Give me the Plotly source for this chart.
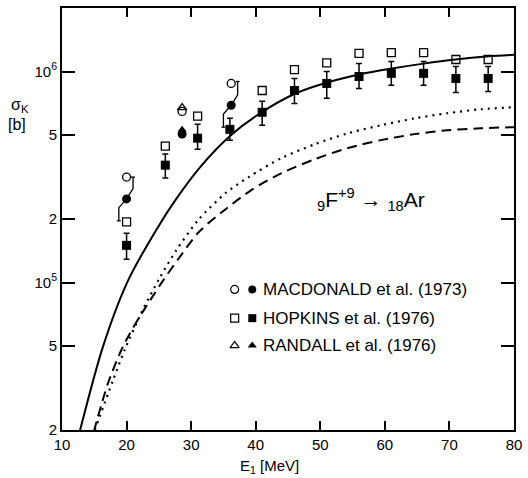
import plotly.graph_objects as go

FONT = "Liberation Sans, Arial, sans-serif"

# --- theory curves (E1 [MeV], sigma_K [b]) ---
solid_x = [12.77, 16.31, 20.15, 24.62, 27.69, 31.69, 36.15, 40.92, 46.15, 51.08, 56.0, 61.08, 66.0, 70.92, 76.15, 80.0]
solid_y = [1.98e4, 4.93e4, 1.01e5, 1.78e5, 2.49e5, 3.61e5, 4.99e5, 6.41e5, 7.87e5, 8.87e5, 9.68e5, 1.033e6, 1.09e6, 1.14e6, 1.18e6, 1.20e6]

dot_x = [15.08, 17.85, 19.69, 22.31, 25.08, 27.69, 31.23, 35.38, 38.92, 44.0, 49.23, 54.31, 59.38, 64.62, 69.69, 74.77, 80.0]
dot_y = [2.0e4, 3.41e4, 4.78e4, 7.21e4, 1.045e5, 1.42e5, 2.0e5, 2.66e5, 3.16e5, 3.89e5, 4.53e5, 5.1e5, 5.56e5, 6.0e5, 6.34e5, 6.62e5, 6.77e5]

dash_x = [14.92, 17.08, 19.38, 21.69, 23.85, 25.54, 28.15, 31.23, 35.38, 39.38, 44.0, 49.23, 54.31, 59.38, 64.62, 69.69, 74.77, 80.0]
dash_y = [1.96e4, 3.3e4, 4.93e4, 6.62e4, 8.41e4, 1.01e5, 1.31e5, 1.74e5, 2.23e5, 2.75e5, 3.30e5, 3.85e5, 4.34e5, 4.73e5, 5.05e5, 5.27e5, 5.38e5, 5.45e5]

# --- HOPKINS et al. (1976) ---
hop_E = [20, 26, 31, 36, 41, 46, 51, 56, 61, 66, 71, 76]
hop_open = [1.94e5, 4.43e5, 6.14e5, None, 8.13e5, 1.02e6, 1.10e6, 1.22e6, 1.23e6, 1.23e6, 1.14e6, 1.14e6]
hop_fill = [1.5e5, 3.6e5, 4.83e5, 5.32e5, 6.41e5, 8.13e5, 8.78e5, 9.47e5, 9.8e5, 9.8e5, 9.27e5, 9.27e5]
hop_err_up = [2.1e4, 4.6e4, 7.9e4, 6.8e4, 8.1e4, 1.13e5, 1.22e5, 1.44e5, 1.36e5, 1.36e5, 1.29e5, 1.29e5]
hop_err_dn = [2.1e4, 4.7e4, 5.5e4, 6.0e4, 8.5e4, 1.07e5, 1.32e5, 1.16e5, 1.2e5, 1.2e5, 1.31e5, 1.22e5]

# --- MACDONALD et al. (1973) ---
mac_E = [20, 28.6, 36.2]
mac_open = [3.16e5, 6.47e5, 8.78e5]
mac_fill = [2.49e5, 5.05e5, 6.92e5]
mac_hi = [3.16e5, None, 8.97e5]
mac_lo = [1.96e5, None, 5.45e5]

# --- RANDALL et al. (1976) ---
ran_E = [28.6]
ran_open = [6.75e5]
ran_fill = [5.3e5]

x_ticks = [10, 20, 30, 40, 50, 60, 70, 80]
y_ticks = [2e4, 5e4, 1e5, 2e5, 5e5, 1e6, 2e6]
y_ticktext = ["2", "5", "10<sup>5</sup>", "2", "5", "10<sup>6</sup>", "2"]

legend_labels = ["MACDONALD et al. (1973)", "HOPKINS et al. (1976)", "RANDALL et al. (1976)"]

fig = go.Figure()

fig.add_trace(go.Scatter(x=solid_x, y=solid_y, mode="lines", line=dict(color="black", width=2, shape="spline", smoothing=0.8), showlegend=False))
fig.add_trace(go.Scatter(x=dot_x, y=dot_y, mode="lines", line=dict(color="black", width=2.2, dash="2px,5px", shape="spline", smoothing=0.8), showlegend=False))
fig.add_trace(go.Scatter(x=dash_x, y=dash_y, mode="lines", line=dict(color="black", width=2, dash="10px,6px", shape="spline", smoothing=0.8), showlegend=False))

# Macdonald offset error brackets
bx, by = [], []
for E, v, hi, lo in zip(mac_E, mac_fill, mac_hi, mac_lo):
    if hi is None:
        continue
    bx += [E + 1.0, E + 1.0, E, E - 1.2, E - 1.2, None, E + 0.7, E + 1.3, None, E - 1.5, E - 0.9, None]
    by += [hi, v * 1.12, v, v / 1.1, lo, None, hi, hi, None, lo, lo, None]
fig.add_trace(go.Scatter(x=bx, y=by, mode="lines", line=dict(color="black", width=1.3), showlegend=False))

fig.add_trace(go.Scatter(x=hop_E, y=hop_open, mode="markers",
                         marker=dict(symbol="square-open", size=8, color="black", line=dict(width=1.3)), showlegend=False))
fig.add_trace(go.Scatter(x=hop_E, y=hop_fill, mode="markers",
                         marker=dict(symbol="square", size=9, color="black"),
                         error_y=dict(type="data", symmetric=False, array=hop_err_up, arrayminus=hop_err_dn,
                                      color="black", thickness=1.5, width=3), showlegend=False))
fig.add_trace(go.Scatter(x=ran_E, y=ran_open, mode="markers",
                         marker=dict(symbol="triangle-up-open", size=8, color="black", line=dict(width=1.3)), showlegend=False))
fig.add_trace(go.Scatter(x=ran_E, y=ran_fill, mode="markers",
                         marker=dict(symbol="triangle-up", size=8, color="black"), showlegend=False))
fig.add_trace(go.Scatter(x=mac_E, y=mac_open, mode="markers",
                         marker=dict(symbol="circle-open", size=8, color="black", line=dict(width=1.3)), showlegend=False))
fig.add_trace(go.Scatter(x=mac_E, y=mac_fill, mode="markers",
                         marker=dict(symbol="circle", size=9, color="black"), showlegend=False))

# legend markers on an overlay axis (paper-like 0..1)
leg_y = [0.333, 0.265, 0.2]
leg_open_sym = ["circle-open", "square-open", "triangle-up-open"]
leg_fill_sym = ["circle", "square", "triangle-up"]
fig.add_trace(go.Scatter(x=[0.382] * 3, y=leg_y, mode="markers", xaxis="x2", yaxis="y2",
                         marker=dict(symbol=leg_open_sym, size=8, color="black", line=dict(width=1.2)), showlegend=False))
fig.add_trace(go.Scatter(x=[0.421] * 3, y=leg_y, mode="markers", xaxis="x2", yaxis="y2",
                         marker=dict(symbol=leg_fill_sym, size=8, color="black"), showlegend=False))

annotations = []
for lab, yy in zip(legend_labels, leg_y):
    annotations.append(dict(x=0.441, y=yy, xref="paper", yref="paper", text=lab, showarrow=False,
                            xanchor="left", yanchor="middle", font=dict(size=17, family=FONT, color="black")))
annotations.append(dict(x=-0.092, y=0.77, xref="paper", yref="paper", text="σ<sub>K</sub>", showarrow=False,
                        xanchor="center", yanchor="middle", font=dict(size=16, family=FONT, color="black")))
annotations.append(dict(x=-0.099, y=0.724, xref="paper", yref="paper", text="[b]", showarrow=False,
                        xanchor="center", yanchor="middle", font=dict(size=16, family=FONT, color="black")))
annotations.append(dict(x=0.46, y=-0.087, xref="paper", yref="paper", text="E<sub>1</sub> [MeV]", showarrow=False,
                        xanchor="center", yanchor="middle", font=dict(size=15, family=FONT, color="black")))
annotations.append(dict(x=0.559, y=0.547, xref="paper", yref="paper",
                        text="<sub>9</sub>F<sup>+9</sup> → <sub>18</sub>Ar", showarrow=False,
                        xanchor="left", yanchor="middle", font=dict(size=21, family=FONT, color="black")))

axis_common = dict(showline=True, linecolor="black", linewidth=2, mirror="ticks", ticks="inside",
                   tickcolor="black", tickwidth=1.5, showgrid=False, zeroline=False,
                   tickfont=dict(size=15, family=FONT, color="black"))

fig.update_layout(
    width=528, height=478,
    margin=dict(l=62, r=10, t=6, b=48),
    paper_bgcolor="white", plot_bgcolor="white",
    xaxis=dict(range=[10, 80], tickvals=x_ticks, ticklen=9, **axis_common),
    yaxis=dict(type="log", range=[4.30103, 6.30103], tickvals=y_ticks, ticktext=y_ticktext, ticklen=13, **axis_common),
    xaxis2=dict(range=[0, 1], overlaying="x", visible=False),
    yaxis2=dict(range=[0, 1], overlaying="y", visible=False),
    annotations=annotations,
    showlegend=False,
)

fig.write_html("out.html")
